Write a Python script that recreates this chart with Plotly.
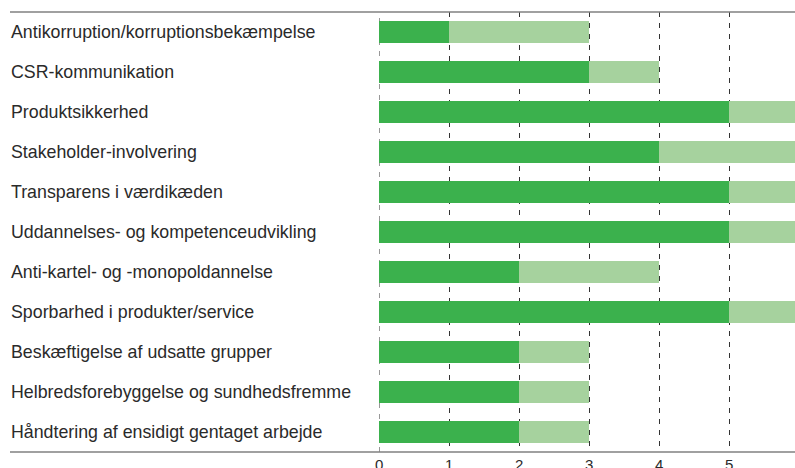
import plotly.graph_objects as go

categories = [
    "Antikorruption/korruptionsbekæmpelse",
    "CSR-kommunikation",
    "Produktsikkerhed",
    "Stakeholder-involvering",
    "Transparens i værdikæden",
    "Uddannelses- og kompetenceudvikling",
    "Anti-kartel- og -monopoldannelse",
    "Sporbarhed i produkter/service",
    "Beskæftigelse af udsatte grupper",
    "Helbredsforebyggelse og sundhedsfremme",
    "Håndtering af ensidigt gentaget arbejde",
]
dark_values = [1, 3, 5, 4, 5, 5, 2, 5, 2, 2, 2]
light_values = [2, 1, 1, 2, 1, 1, 2, 1, 1, 1, 1]
tick_values = [0, 1, 2, 3, 4, 5, 6]

W, H = 795, 468
L, T, B = 379, 12, 16
plot_w = W - L
unit = 70.0
xmax = plot_w / unit

FONT = "Liberation Sans, Arial, Helvetica, sans-serif"

fig = go.Figure()
fig.add_trace(go.Bar(y=categories, x=dark_values, orientation="h",
                     marker=dict(color="#3bb14d", line=dict(width=0)), width=0.57,
                     hoverinfo="skip"))
fig.add_trace(go.Bar(y=categories, x=light_values, orientation="h",
                     marker=dict(color="#a6d29e", line=dict(width=0)), width=0.57,
                     hoverinfo="skip"))

def px_to_paper_x(px):
    return (px - L) / plot_w

shapes = []
# dashed grid line at x = 0 (edge of range)
shapes.append(dict(type="line", xref="x", yref="paper", x0=0, x1=0, y0=0, y1=1,
                   line=dict(color="#333333", width=1, dash="5px,6px"), layer="below"))
# top and bottom rules
for yy in (1.0, 0.0):
    shapes.append(dict(type="line", xref="paper", yref="paper",
                       x0=px_to_paper_x(10), x1=px_to_paper_x(800), y0=yy, y1=yy,
                       line=dict(color="#808080", width=1.6)))

annotations = []
for c in categories:
    annotations.append(dict(x=px_to_paper_x(10), xref="paper", y=c, yref="y",
                            text=c, showarrow=False, xanchor="left", yanchor="middle",
                            xshift=-1,
                            font=dict(family=FONT, size=17.8, color="#2a2a2a")))
for t in tick_values:
    annotations.append(dict(x=t, xref="x", y=0, yref="paper", yshift=-2,
                            text=str(t), showarrow=False, xanchor="center", yanchor="top",
                            font=dict(family=FONT, size=15, color="#2a2a2a")))

fig.update_layout(
    barmode="stack",
    width=W, height=H,
    margin=dict(l=L, r=0, t=T, b=B, pad=0),
    plot_bgcolor="white", paper_bgcolor="white",
    showlegend=False,
    hovermode=False,
    shapes=shapes,
    annotations=annotations,
    xaxis=dict(range=[0, xmax], tickvals=tick_values, showticklabels=False,
               showgrid=True, gridcolor="#333333", griddash="5px,6px", gridwidth=1,
               zeroline=False, showline=False, ticks="", layer="below traces"),
    yaxis=dict(categoryorder="array", categoryarray=categories[::-1],
               range=[-0.5, len(categories) - 0.5], showticklabels=False,
               showgrid=False, zeroline=False, showline=False, ticks=""),
)

fig.write_html(
    "out.html",
    config={"displayModeBar": False},
    post_script="document.body.style.margin='0';document.body.style.overflow='hidden';",
)
